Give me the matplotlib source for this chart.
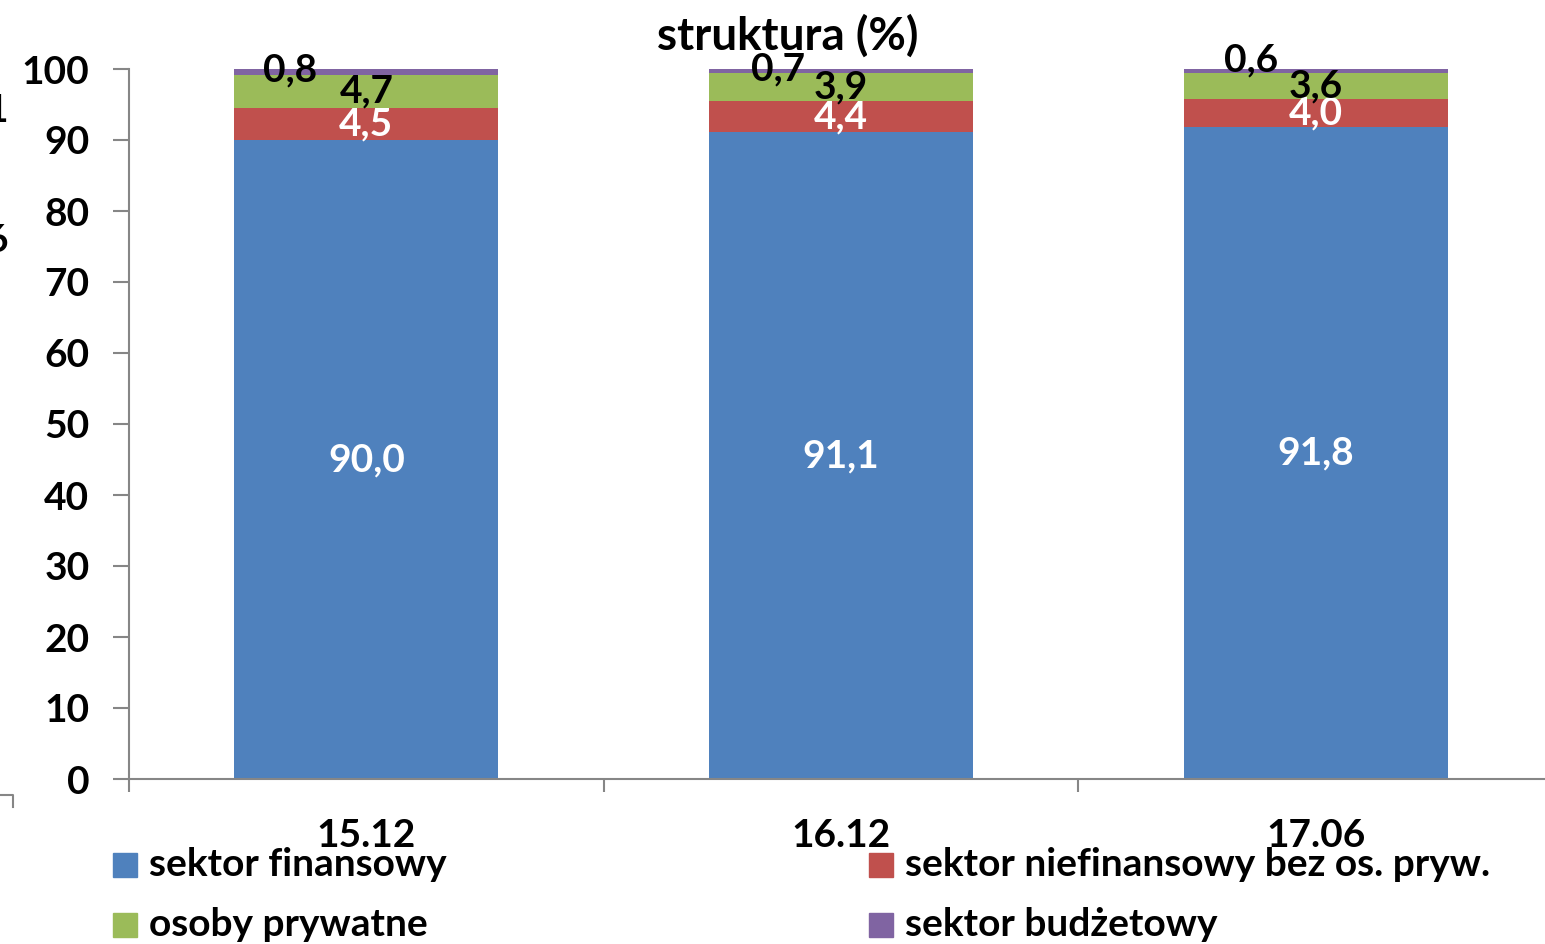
import matplotlib
matplotlib.use("Agg")
import matplotlib.pyplot as plt
from matplotlib.patches import Rectangle
from matplotlib.lines import Line2D
import numpy as np

plt.rcParams['font.family'] = ['Lato', 'DejaVu Sans']
plt.rcParams['font.weight'] = 'bold'

categories = ["15.12", "16.12", "17.06"]
series_names = ["sektor finansowy", "sektor niefinansowy bez os. pryw.",
                "osoby prywatne", "sektor budżetowy"]
sektor_finansowy = [90.0, 91.1, 91.8]
sektor_niefinansowy = [4.5, 4.4, 4.0]
osoby_prywatne = [4.7, 3.9, 3.6]
sektor_budzetowy = [0.8, 0.7, 0.6]
yticks = [0, 10, 20, 30, 40, 50, 60, 70, 80, 90, 100]
title = "struktura (%)"

colors = ["#4F81BD", "#C0504D", "#9BBB59", "#8064A2"]
label_colors = ["white", "white", "black", "black"]
# label offsets (px) for the thin top segment
top_label_dx = [-76, -63, -65]
top_label_dy = [2, 2, 11]

FS = 28
W, H = 1545, 944
fig = plt.figure(figsize=(W / 100, H / 100), dpi=100)
ax = fig.add_axes([129 / W, 1 - 779 / H, 1 - 129 / W, (779 - 69) / H])

series = [sektor_finansowy, sektor_niefinansowy, osoby_prywatne, sektor_budzetowy]
x = np.arange(len(categories))
bottom = np.zeros(len(categories))
width = 0.556
for i, (vals, c) in enumerate(zip(series, colors)):
    vals = np.array(vals)
    ax.bar(x, vals, width, bottom=bottom, color=c, linewidth=0)
    for j in range(len(categories)):
        ycen = bottom[j] + vals[j] / 2
        txt = f"{vals[j]:.1f}".replace(".", ",")
        if i == 3:
            ax.annotate(txt, (x[j], ycen), xytext=(top_label_dx[j] * 0.72, top_label_dy[j] * 0.72),
                        textcoords="offset points", ha="center", va="center",
                        fontsize=FS, fontweight="bold", color=label_colors[i])
        else:
            ax.text(x[j], ycen, txt, ha="center", va="center", fontsize=FS,
                    fontweight="bold", color=label_colors[i])
    bottom = bottom + vals

ax.set_ylim(0, 100)
ax.set_xlim(-0.5, 2.483)
ax.set_yticks(yticks)
ax.set_yticklabels([str(t) for t in yticks], fontsize=FS, fontweight="bold")
ax.set_xticks(x)
ax.set_xticklabels(categories, fontsize=FS, fontweight="bold")
ax.set_xticks([-0.5, 0.5, 1.5], minor=True)
ax.tick_params(axis="x", which="major", length=0, pad=28)
ax.tick_params(axis="x", which="minor", length=9.5, color="#868686", width=1.5, direction="out")
ax.tick_params(axis="y", length=11.5, color="#868686", width=1.5, pad=17, direction="out")
for s in ["top", "right"]:
    ax.spines[s].set_visible(False)
for s in ["left", "bottom"]:
    ax.spines[s].set_color("#868686")
    ax.spines[s].set_linewidth(1.5)

fig.text(788 / W, 1 - 36 / H, title, ha="center", va="center", fontsize=33, fontweight="bold")

# legend (manual)
leg_pos = [(113, 865), (869, 865), (113, 925), (869, 925)]
for name, c, (px, py) in zip(series_names, colors, leg_pos):
    fig.patches.append(Rectangle((px / W, 1 - (py + 12) / H), 24 / W, 24 / H,
                                 transform=fig.transFigure, color=c, figure=fig))
    fig.text((px + 36) / W, 1 - py / H, name, ha="left", va="center",
             fontsize=FS, fontweight="bold")

# fragments of the neighbouring chart at the left edge
fig.text(8 / W, 1 - 110 / H, "1", ha="right", va="center", fontsize=FS, fontweight="bold")
fig.text(8 / W, 1 - 240 / H, "6", ha="right", va="center", fontsize=FS, fontweight="bold")
fig.lines.append(Line2D([0, 13 / W, 13 / W], [1 - 795 / H, 1 - 795 / H, 1 - 807 / H],
                        transform=fig.transFigure, color="#868686", linewidth=1.5))

fig.savefig("out.png", dpi=100)
